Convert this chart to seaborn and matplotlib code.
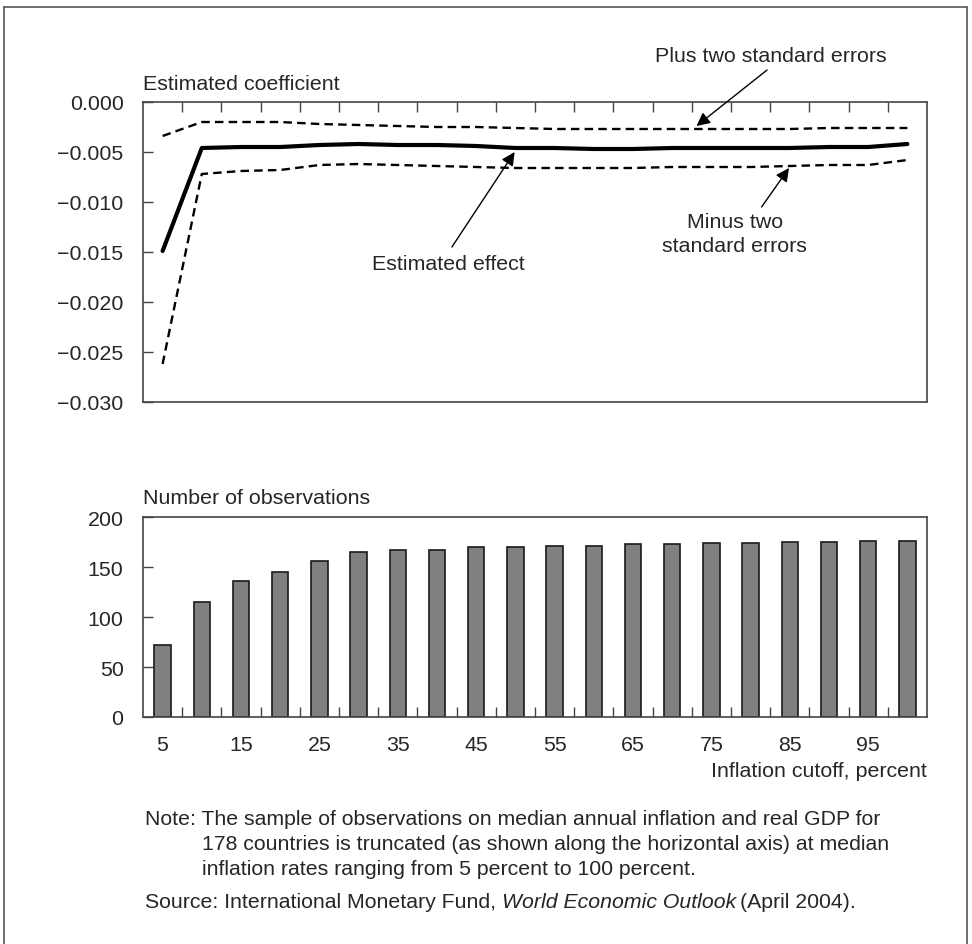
"""Estimated inflation effect on growth by inflation cutoff, with observation counts."""

import matplotlib

matplotlib.use("Agg")

import matplotlib.pyplot as plt
import seaborn as sns
from matplotlib.lines import Line2D

# inflation cutoffs (percent) on the horizontal axis
cutoffs = [5, 10, 15, 20, 25, 30, 35, 40, 45, 50, 55, 60, 65, 70, 75, 80, 85, 90, 95, 100]

# estimated coefficient and the two-standard-error band
effect = [-0.0149, -0.0046, -0.0045, -0.0045, -0.0043, -0.0042, -0.0043, -0.0043, -0.0044, -0.0046,
          -0.0046, -0.0047, -0.0047, -0.0046, -0.0046, -0.0046, -0.0046, -0.0045, -0.0045, -0.0042]
upper = [-0.0034, -0.0020, -0.0020, -0.0020, -0.0022, -0.0023, -0.0024, -0.0025, -0.0025, -0.0026,
         -0.0027, -0.0027, -0.0027, -0.0027, -0.0027, -0.0027, -0.0027, -0.0026, -0.0026, -0.0026]
lower = [-0.0262, -0.0072, -0.0069, -0.0068, -0.0063, -0.0062, -0.0063, -0.0064, -0.0065, -0.0066,
         -0.0066, -0.0066, -0.0066, -0.0065, -0.0065, -0.0065, -0.0064, -0.0063, -0.0063, -0.0058]

# number of observations below each cutoff
observations = [72, 115, 136, 145, 156, 165, 167, 167, 170, 170,
                171, 171, 173, 173, 174, 174, 175, 175, 176, 176]

coef_ticks = [0.0, -0.005, -0.010, -0.015, -0.020, -0.025, -0.030]
obs_ticks = [0, 50, 100, 150, 200]
label_cutoffs = [5, 15, 25, 35, 45, 55, 65, 75, 85, 95]

sns.set_style("white")
plt.rcParams["font.family"] = ["Liberation Sans", "DejaVu Sans"]
FS = 15.4
NOTE_FS = 15.3
SPINE = "#444444"

fig = plt.figure(figsize=(9.72, 9.45), dpi=100)
W, H = 972, 945


def box(left, top, right, bottom):
    return [left / W, 1 - bottom / H, (right - left) / W, (bottom - top) / H]


ax1 = fig.add_axes(box(143, 103, 927, 403))
ax2 = fig.add_axes(box(143, 518, 927, 718))

dash = (0, (3.6, 2.2))
sns.lineplot(x=cutoffs, y=upper, color="black", lw=1.7, linestyle=dash, ax=ax1)
sns.lineplot(x=cutoffs, y=lower, color="black", lw=1.7, linestyle=dash, ax=ax1)
sns.lineplot(x=cutoffs, y=effect, color="black", lw=3.0, ax=ax1)

sns.barplot(x=cutoffs, y=observations, native_scale=True, width=0.42, color="#808080",
            saturation=1, edgecolor="#1a1a1a", linewidth=1.2, ax=ax2)

boundaries = [c + 2.5 for c in cutoffs[:-1]]
for ax in (ax1, ax2):
    ax.set_xlim(2.5, 102.5)
    ax.set_xlabel("")
    ax.set_ylabel("")
    for sp in ax.spines.values():
        sp.set_color(SPINE)
        sp.set_linewidth(1.2)
        sp.set_visible(True)

# top panel: category boundary ticks along the zero line (top edge)
ax1.set_ylim(-0.030, 0.0)
ax1.set_yticks(coef_ticks)
ax1.set_yticklabels([f"{v:.3f}".replace("-", "\u2212") for v in coef_ticks])
ax1.set_xticks(boundaries)
ax1.tick_params(axis="x", which="major", bottom=False, top=True, labelbottom=False,
                direction="in", length=7, width=1, color=SPINE)
ax1.tick_params(axis="y", left=True, direction="in", length=7, width=1, color=SPINE,
                labelsize=FS, pad=14)

# bottom panel
ax2.set_ylim(0, 200)
ax2.set_yticks(obs_ticks)
ax2.set_xticks(label_cutoffs)
ax2.set_xticklabels([str(c) for c in label_cutoffs])
ax2.set_xticks(boundaries, minor=True)
ax2.tick_params(axis="x", which="major", bottom=True, length=0, labelsize=FS, pad=13)
ax2.tick_params(axis="x", which="minor", bottom=True, direction="in", length=7, width=1, color=SPINE)
ax2.tick_params(axis="y", left=True, direction="in", length=7, width=1, color=SPINE,
                labelsize=FS, pad=14)

# panel titles and axis note
fig.text(143 / W, 1 - 85 / H, "Estimated coefficient", fontsize=FS, ha="left", va="center")
fig.text(143 / W, 1 - 499 / H, "Number of observations", fontsize=FS, ha="left", va="center")
fig.text(927 / W, 1 - 772 / H, "Inflation cutoff, percent", fontsize=FS, ha="right", va="center")

# annotations
arrow = dict(arrowstyle="-|>", color="black", lw=1.0, mutation_scale=20, shrinkA=0, shrinkB=0)
ax1.text(82.6, 0.0046, "Plus two standard errors", fontsize=FS, ha="center", va="center", clip_on=False)
ax1.annotate("", xy=(73.1, -0.0024), xytext=(82.1, 0.0032), arrowprops=arrow, annotation_clip=False)
ax1.text(41.5, -0.0162, "Estimated effect", fontsize=FS, ha="center", va="center")
ax1.annotate("", xy=(49.9, -0.0050), xytext=(41.9, -0.0145), arrowprops=arrow)
ax1.text(78.0, -0.01315, "Minus two\nstandard errors", fontsize=FS, ha="center", va="center",
         linespacing=1.3)
ax1.annotate("", xy=(84.9, -0.0066), xytext=(81.4, -0.0105), arrowprops=arrow)

# note and source
note_x = 145 / W
indent_x = 202 / W
fig.text(note_x, 1 - 820 / H,
         "Note: The sample of observations on median annual inflation and real GDP for",
         fontsize=NOTE_FS, ha="left", va="center")
fig.text(indent_x, 1 - 845 / H,
         "178 countries is truncated (as shown along the horizontal axis) at median",
         fontsize=NOTE_FS, ha="left", va="center")
fig.text(indent_x, 1 - 870 / H,
         "inflation rates ranging from 5 percent to 100 percent.",
         fontsize=NOTE_FS, ha="left", va="center")
src = fig.text(note_x, 1 - 903 / H, "Source: International Monetary Fund, ",
               fontsize=NOTE_FS, ha="left", va="center")
ital = fig.text(0, 0, "World Economic Outlook", fontsize=NOTE_FS, style="italic",
                ha="left", va="center", transform=None)
fig.canvas.draw()
renderer = fig.canvas.get_renderer()
bb = src.get_window_extent(renderer)
ital.set_position((bb.x1, (bb.y0 + bb.y1) / 2))
bb2 = ital.get_window_extent(renderer)
fig.text(bb2.x1 + 4, (bb.y0 + bb.y1) / 2, "(April 2004).", fontsize=NOTE_FS,
         ha="left", va="center", transform=None)

# frame around the figure
frame = dict(color="#555555", lw=1.2, transform=fig.transFigure)
fig.add_artist(Line2D([4 / W, 4 / W], [0, 1 - 8 / H], **frame))
fig.add_artist(Line2D([4 / W, 967 / W], [1 - 8 / H, 1 - 8 / H], **frame))
fig.add_artist(Line2D([967 / W, 967 / W], [0, 1 - 8 / H], **frame))

fig.savefig("out.png", dpi=100)
